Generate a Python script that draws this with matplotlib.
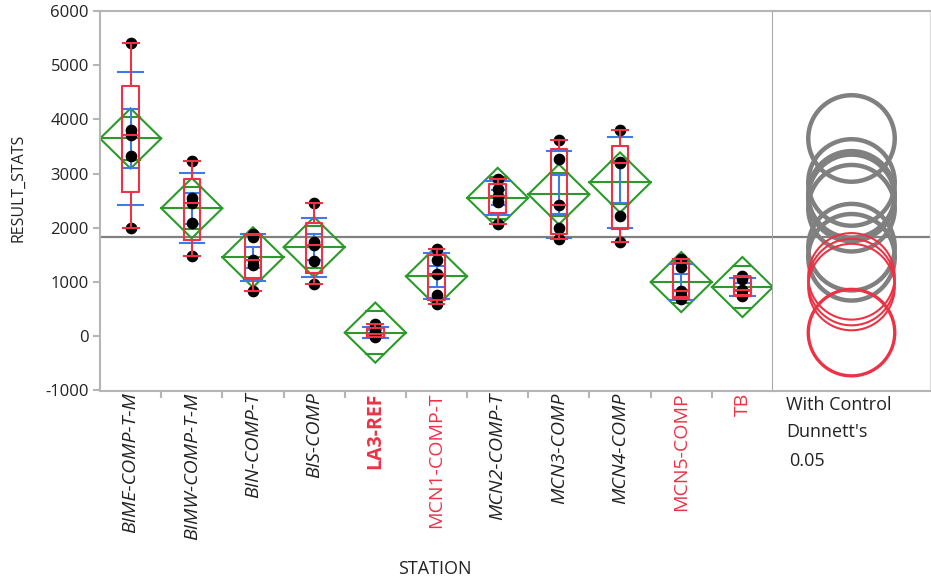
import numpy as np
import matplotlib
matplotlib.use("Agg")
import matplotlib.pyplot as plt
from matplotlib.patches import Polygon, Ellipse

plt.rcParams['font.family'] = ['Open Sans', 'DejaVu Sans']

stations = ["BIME-COMP-T-M", "BIMW-COMP-T-M", "BIN-COMP-T", "BIS-COMP", "LA3-REF",
            "MCN1-COMP-T", "MCN2-COMP-T", "MCN3-COMP", "MCN4-COMP", "MCN5-COMP", "TB"]

# RESULT_STATS observations per station
bime = [1990, 3325, 3706, 3812, 5410]
bimw = [1474, 2096, 2458, 2557, 3227]
bin_ = [834, 1321, 1400, 1840, 1890]
bis = [960, 1390, 1680, 1740, 2450]
la3 = [-20, 10, 45, 80, 225]
mcn1 = [601, 755, 1155, 1400, 1616]
mcn2 = [2077, 2476, 2581, 2723, 2907]
mcn3 = [1788, 1996, 2415, 3277, 3614]
mcn4 = [1738, 2220, 3200, 3215, 3812]
mcn5 = [690, 760, 840, 1280, 1430]
tb = [740, 770, 846, 1064, 1120]
results = [bime, bimw, bin_, bis, la3, mcn1, mcn2, mcn3, mcn4, mcn5, tb]

control = "LA3-REF"
not_different = ["MCN1-COMP-T", "MCN5-COMP", "TB"]

y_ticks = [-1000, 0, 1000, 2000, 3000, 4000, 5000, 6000]
T_975 = 2.0154      # t quantile, 0.975, df = 44
DUNNETT_Q = 2.9     # comparison-circle multiplier

RED = '#EC3346'
BLUE = '#3B7BEE'
GREEN = '#2A9A2A'
GREY = '#808080'
FRAME = '#B5B5B5'
TEXT = '#222222'


def quantile(v, p):
    v = np.sort(np.asarray(v, float))
    n = len(v)
    pos = p * (n + 1)
    lo = int(np.floor(pos))
    if lo < 1:
        return v[0]
    if lo >= n:
        return v[-1]
    return v[lo - 1] + (pos - lo) * (v[lo] - v[lo - 1])


means = np.array([np.mean(r) for r in results])
sds = np.array([np.std(r, ddof=1) for r in results])
ns = np.array([len(r) for r in results])
df_err = int(ns.sum() - len(results))
sp = np.sqrt(sum((n - 1) * s ** 2 for n, s in zip(ns, sds)) / df_err)
grand = np.mean(np.concatenate(results))

W, H = 931, 583
fig = plt.figure(figsize=(W / 100, H / 100), dpi=100)
left, right_main, right_all = 100, 773, 930
top, bottom = 11, 390.5
ax = fig.add_axes([left / W, 1 - bottom / H, (right_main - left) / W, (bottom - top) / H])
cax = fig.add_axes([right_main / W, 1 - bottom / H, (right_all - right_main) / W, (bottom - top) / H])

x = np.arange(len(stations))
ax.set_xlim(-0.5, len(stations) - 0.5)
ax.set_ylim(-1000, 6000)

ax.axhline(grand, color=GREY, lw=1.6, zorder=1)

for i, (r, m, s, n) in enumerate(zip(results, means, sds, ns)):
    # means diamond with overlap marks
    half = T_975 * sp / np.sqrt(n)
    hw = 0.5
    ax.add_patch(Polygon([[i - hw, m], [i, m + half], [i + hw, m], [i, m - half]],
                         closed=True, fill=False, ec=GREEN, lw=1.5, zorder=2))
    ax.plot([i - hw, i + hw], [m, m], color=GREEN, lw=1.5, zorder=2)
    ov = half * np.sqrt(2) / 2
    for yy in (m + ov, m - ov):
        frac = 1 - ov / half
        ax.plot([i - hw * frac, i + hw * frac], [yy, yy], color=GREEN, lw=1.5, zorder=2)

    # std dev lines and mean error bars
    for yy in (m - s, m + s):
        ax.plot([i - 0.2, i + 0.2], [yy, yy], color=BLUE, lw=1.5, zorder=3)
    se = s / np.sqrt(n)
    ax.plot([i, i], [m - se, m + se], color=BLUE, lw=1.5, zorder=3)
    for yy in (m - se, m + se):
        ax.plot([i - 0.1, i + 0.1], [yy, yy], color=BLUE, lw=1.5, zorder=3)

    # observations
    ax.plot(np.full(len(r), i), r, 'o', color='black', ms=7.4, zorder=4)

    # outlier box plot
    q1, med, q3 = quantile(r, 0.25), quantile(r, 0.5), quantile(r, 0.75)
    lo, hi = min(r), max(r)
    bw = 0.135
    ax.plot([i - bw, i + bw, i + bw, i - bw, i - bw], [q1, q1, q3, q3, q1],
            color=RED, lw=1.5, zorder=5)
    ax.plot([i - bw, i + bw], [med, med], color=RED, lw=1.5, zorder=5)
    ax.plot([i, i], [q3, hi], color=RED, lw=1.5, zorder=5)
    ax.plot([i, i], [lo, q1], color=RED, lw=1.5, zorder=5)
    for yy in (lo, hi):
        ax.plot([i - 0.13, i + 0.13], [yy, yy], color=RED, lw=1.5, zorder=5)

ax.set_yticks(y_ticks)
ax.set_yticklabels([str(t) for t in y_ticks])
ax.set_xticks(x)
ax.set_xticklabels(stations, rotation=90)
ax.set_xticks(x[:-1] + 0.5, minor=True)
ax.tick_params(axis='x', which='major', length=0, pad=1.5, labelsize=14, labelcolor=TEXT)
ax.tick_params(axis='x', which='minor', length=5, color=FRAME, width=1.5)
ax.tick_params(axis='y', length=5, color=FRAME, width=1.5, labelsize=12, pad=3,
               labelcolor=TEXT)

for lab, name in zip(ax.get_xticklabels(), stations):
    if name == control:
        lab.set_color(RED)
        lab.set_fontweight('bold')
    elif name in not_different:
        lab.set_color(RED)
    else:
        lab.set_fontstyle('italic')

for side in ('top', 'left', 'bottom'):
    ax.spines[side].set_color(FRAME)
    ax.spines[side].set_linewidth(1.5)
ax.spines['right'].set_color('#A5A5A5')
ax.spines['right'].set_linewidth(2.2)

fig.text(18 / W, 1 - 188 / H, 'RESULT_STATS', fontsize=11.5, rotation=90,
         ha='center', va='center', color=TEXT)
fig.text(435 / W, 1 - 569 / H, 'STATION', fontsize=13,
         ha='center', va='center', color=TEXT)

# comparison circles panel
cax.set_xlim(0, 1)
cax.set_ylim(-1000, 6000)
cax.set_xticks([])
cax.set_yticks([])
cax.spines['left'].set_visible(False)
for side in ('top', 'bottom'):
    cax.spines[side].set_color(FRAME)
    cax.spines[side].set_linewidth(1.5)
cax.spines['right'].set_color('#DDDDDD')
cax.spines['right'].set_linewidth(1.0)
cax.axhline(grand, color=GREY, lw=1.6, zorder=1)

panel_w = right_all - right_main
panel_h = bottom - top
px_per_unit = panel_h / 7000.0
order = sorted(range(len(stations)),
               key=lambda k: (stations[k] == control or stations[k] in not_different))
for k in order:
    rad = DUNNETT_Q * sp / np.sqrt(ns[k])
    wx = 2 * rad * px_per_unit / panel_w
    name = stations[k]
    if name == control:
        ec, lw = RED, 2.4
    elif name in not_different:
        ec, lw = RED, 1.5
    else:
        ec, lw = GREY, 3.2
    cax.add_patch(Ellipse((0.5, means[k]), wx, 2 * rad, fill=False, ec=ec, lw=lw, zorder=3))

fig.text(786 / W, 1 - 405 / H, "With Control", fontsize=13, va='center', ha='left', color=TEXT)
fig.text(786 / W, 1 - 432 / H, "Dunnett's", fontsize=13, va='center', ha='left', color=TEXT)
fig.text(789 / W, 1 - 461 / H, "0.05", fontsize=13, va='center', ha='left', color=TEXT)

fig.savefig('out.png', dpi=100)
